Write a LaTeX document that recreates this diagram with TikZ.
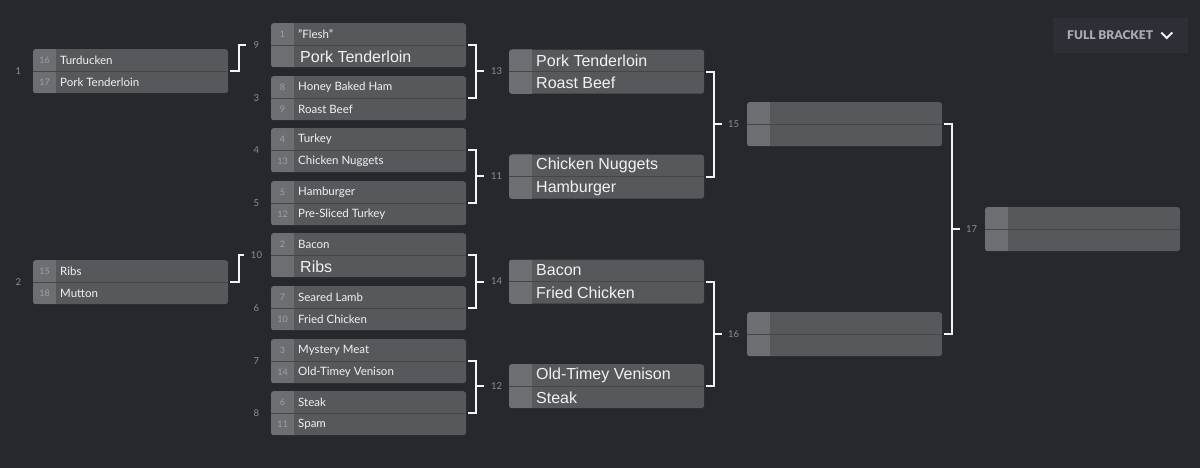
\documentclass[tikz,border=0pt]{standalone}
\usepackage{fontspec}
\setmainfont{Lato}
\newfontfamily\arialfont{Liberation Sans}
\newfontfamily\latoheavy{Lato Black}
\definecolor{bgcol}{HTML}{26282E}
\definecolor{boxfill}{HTML}{57585C}
\definecolor{seedfill}{HTML}{6D6E72}
\definecolor{divcol}{HTML}{45464A}
\definecolor{seedtext}{HTML}{A0A1A4}
\definecolor{teamtext}{HTML}{F2F2F2}
\definecolor{labelgrey}{HTML}{8B8D92}
\definecolor{connwhite}{HTML}{F4F4F4}
\definecolor{btnfill}{HTML}{2C2F36}
\definecolor{btntext}{HTML}{A9ACB3}
\newcommand\bigfont{\fontsize{16}{18}\arialfont}
\newcommand\matchrow[7]{%
  \node[matchbox] (#1) at (#2,#3) {};
  \begin{scope}
    \clip[rounded corners=3pt] (#1.north west) rectangle (#1.south east);
    \fill[seedfill] (#1.north west) rectangle ([xshift=23pt]#1.south west);
  \end{scope}
  \draw[divider] (#1.west) -- (#1.east);
  \node[seednum] (#1sa) at ([xshift=11.5pt,yshift=-11pt]#1.north west) {#4};
  \node[team] (#1ta) at ([xshift=27pt,yshift=-11pt]#1.north west) {#5};
  \node[seednum] (#1sb) at ([xshift=11.5pt,yshift=11pt]#1.south west) {#6};
  \node[team] (#1tb) at ([xshift=27pt,yshift=11pt]#1.south west) {#7};
}
\begin{document}
\begin{tikzpicture}[x=1pt,y=-1pt,
  matchbox/.style={fill=boxfill, rounded corners=3pt, minimum width=195pt, minimum height=44pt, inner sep=0pt, anchor=north west},
  divider/.style={draw=divcol, line width=1pt},
  seednum/.style={text=seedtext, font=\fontsize{9}{10}\selectfont, inner sep=0pt},
  team/.style={text=teamtext, font=\fontsize{11.5}{13}\selectfont, anchor=west, inner sep=0pt},
  rlabel/.style={text=labelgrey, font=\fontsize{9.5}{11}\selectfont, inner sep=0pt},
  conn/.style={draw=connwhite, line width=2pt},
  btnbox/.style={fill=btnfill, minimum width=135pt, minimum height=35pt, inner sep=0pt},
  btnlabel/.style={text=btntext, font=\fontsize{12}{14}\latoheavy, inner sep=0pt, anchor=west},
  chev/.style={draw=teamtext, line width=1.8pt}
]
\fill[bgcol] (0,0) rectangle (1200,468);
\useasboundingbox (0,0) rectangle (1200,468);

% button
\node[btnbox] (fb) at (1120.5,35.5) {};
\node[btnlabel] (fbt) at (1067,35.5) {FULL BRACKET};
\draw[chev] ([xshift=8pt,yshift=3pt]fbt.east) -- ++(5.5,5.5) -- ++(5.5,-5.5);

% round 1
\matchrow{m1}{33}{49}{16}{Turducken}{17}{Pork Tenderloin}
\matchrow{m2}{33}{260}{15}{Ribs}{18}{Mutton}
\node[rlabel] (l1) at (18.5,71) {1};
\node[rlabel] (l2) at (18.5,282) {2};

% round 2
\matchrow{m9}{271}{23}{1}{"Flesh"}{}{\hspace{2pt}\bigfont Pork Tenderloin}
\matchrow{m3}{271}{76}{8}{Honey Baked Ham}{9}{Roast Beef}
\matchrow{m4}{271}{128}{4}{Turkey}{13}{Chicken Nuggets}
\matchrow{m5}{271}{181}{5}{Hamburger}{12}{Pre-Sliced Turkey}
\matchrow{m10}{271}{233}{2}{Bacon}{}{\hspace{2pt}\bigfont Ribs}
\matchrow{m6}{271}{286}{7}{Seared Lamb}{10}{Fried Chicken}
\matchrow{m7}{271}{339}{3}{Mystery Meat}{14}{Old-Timey Venison}
\matchrow{m8}{271}{391}{6}{Steak}{11}{Spam}
\node[rlabel] (l9) at (256.5,45) {9};
\node[rlabel] (l3) at (256.5,98) {3};
\node[rlabel] (l4) at (256.5,150) {4};
\node[rlabel] (l5) at (256.5,203) {5};
\node[rlabel] (l10) at (256.5,255) {10};
\node[rlabel] (l6) at (256.5,308) {6};
\node[rlabel] (l7) at (256.5,361) {7};
\node[rlabel] (l8) at (256.5,413) {8};

% round 3
\matchrow{m13}{509}{49.5}{}{\bigfont Pork Tenderloin}{}{\bigfont Roast Beef}
\matchrow{m11}{509}{154.5}{}{\bigfont Chicken Nuggets}{}{\bigfont Hamburger}
\matchrow{m14}{509}{259.5}{}{\bigfont Bacon}{}{\bigfont Fried Chicken}
\matchrow{m12}{509}{364}{}{\bigfont Old-Timey Venison}{}{\bigfont Steak}
\node[rlabel,anchor=west] (l13) at (491,71.5) {13};
\node[rlabel,anchor=west] (l11) at (491,176.5) {11};
\node[rlabel,anchor=west] (l14) at (491,281.5) {14};
\node[rlabel,anchor=west] (l12) at (491,386) {12};

% round 4
\matchrow{m15}{747}{102}{}{}{}{}
\matchrow{m16}{747}{312}{}{}{}{}
\node[rlabel,anchor=west] (l15) at (728,124) {15};
\node[rlabel,anchor=west] (l16) at (728,334) {16};

% final
\matchrow{m17}{985}{207}{}{}{}{}
\node[rlabel,anchor=west] (l17) at (966,229) {17};

% connectors round 1 -> 2
\draw[conn] ([xshift=2pt]m1.east) -- ++(9,0) |- ([xshift=-8pt]l9.west);
\draw[conn] ([xshift=2pt]m2.east) -- ++(9,0) |- ([xshift=-7pt]l10.west);

% round 2 -> 3
\draw[conn] ([xshift=2pt]m9.east) -- ++(8,0) |- ([xshift=2pt]m3.east);
\draw[conn] ([xshift=-7pt]l13.west) -- ++(-8,0);
\draw[conn] ([xshift=2pt]m4.east) -- ++(8,0) |- ([xshift=2pt]m5.east);
\draw[conn] ([xshift=-7pt]l11.west) -- ++(-8,0);
\draw[conn] ([xshift=2pt]m10.east) -- ++(8,0) |- ([xshift=2pt]m6.east);
\draw[conn] ([xshift=-7pt]l14.west) -- ++(-8,0);
\draw[conn] ([xshift=2pt]m7.east) -- ++(8,0) |- ([xshift=2pt]m8.east);
\draw[conn] ([xshift=-7pt]l12.west) -- ++(-8,0);

% round 3 -> 4
\draw[conn] ([xshift=2pt]m13.east) -- ++(8,0) |- ([xshift=2pt]m11.east);
\draw[conn] ([xshift=-6pt]l15.west) -- ++(-8,0);
\draw[conn] ([xshift=2pt]m14.east) -- ++(8,0) |- ([xshift=2pt]m12.east);
\draw[conn] ([xshift=-6pt]l16.west) -- ++(-8,0);

% round 4 -> final
\draw[conn] ([xshift=2pt]m15.east) -- ++(8,0) |- ([xshift=2pt]m16.east);
\draw[conn] ([xshift=-6pt]l17.west) -- ++(-8,0);
\end{tikzpicture}
\end{document}
